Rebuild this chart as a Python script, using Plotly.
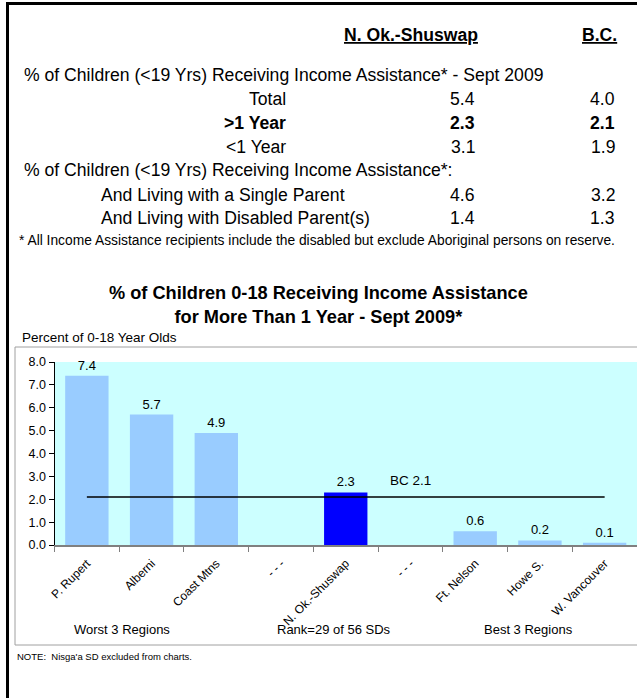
import plotly.graph_objects as go

W, H = 637, 698
FONT = "Liberation Sans, Arial, sans-serif"

# summary table
col_headers = ["N. Ok.-Shuswap", "B.C."]
section_titles = [
    "% of Children (<19 Yrs) Receiving Income Assistance* - Sept 2009",
    "% of Children (<19 Yrs) Receiving Income Assistance*:",
]
sept_labels = ["Total", ">1 Year", "<1 Year"]
sept_nos = [5.4, 2.3, 3.1]
sept_bc = [4.0, 2.1, 1.9]
parent_labels = ["And Living with a Single Parent", "And Living with Disabled Parent(s)"]
parent_nos = [4.6, 1.4]
parent_bc = [3.2, 1.3]
footnote = ("* All Income Assistance recipients include the disabled but exclude "
            "Aboriginal persons on reserve.")

# bar chart
chart_title = ("<b>% of Children 0-18 Receiving Income Assistance<br>"
               "for More Than 1 Year - Sept 2009*</b>")
region_keys = ["P. Rupert", "Alberni", "Coast Mtns", "gap1", "N. Ok.-Shuswap",
               "gap2", "Ft. Nelson", "Howe S.", "W. Vancouver"]
region_labels = ["P. Rupert", "Alberni", "Coast Mtns", "- - -", "N. Ok.-Shuswap",
                 "- - -", "Ft. Nelson", "Howe S.", "W. Vancouver"]
rates = [7.4, 5.7, 4.9, None, 2.3, None, 0.6, 0.2, 0.1]
highlight = "N. Ok.-Shuswap"
bc_rate = 2.1
group_labels = ["Worst 3 Regions", "Rank=29 of 56 SDs", "Best 3 Regions"]
note = "NOTE:  Nisga'a SD excluded from charts."


def px(x):
    return x / W


def py(y):
    return 1 - y / H


def text(s, x, y, size, anchor="left", bold=False):
    if bold:
        s = f"<b>{s}</b>"
    return dict(text=s, x=px(x), y=py(y), xref="paper", yref="paper",
                xanchor=anchor, yanchor="middle", showarrow=False,
                font=dict(size=size, color="black", family=FONT))


TS = 17.6  # table font size
annotations = []
annotations.append(text(f"<u>{col_headers[0]}</u>", 411, 35, TS, "center", True))
annotations.append(text(f"<u>{col_headers[1]}</u>", 599, 35, TS, "center", True))
annotations.append(text(section_titles[0], 22, 75, TS))
for i, lab in enumerate(sept_labels):
    y = 99 + i * 24
    bold = i == 1
    annotations.append(text(lab, 288, y, TS, "right", bold))
    annotations.append(text(f"{sept_nos[i]:.1f}", 477, y, TS, "right", bold))
    annotations.append(text(f"{sept_bc[i]:.1f}", 617, y, TS, "right", bold))
annotations.append(text(section_titles[1], 22, 170, TS))
for i, lab in enumerate(parent_labels):
    y = 195 + i * 23
    annotations.append(text(lab, 99, y, TS))
    annotations.append(text(f"{parent_nos[i]:.1f}", 477, y, TS, "right"))
    annotations.append(text(f"{parent_bc[i]:.1f}", 617, y, TS, "right"))
annotations.append(text(footnote, 17, 241, 13.8))

annotations.append(text(chart_title, 318, 305, 18.2, "center"))
annotations.append(text("Percent of 0-18 Year Olds", 20, 338, 13.5))
for lab, x in zip(group_labels, [122, 334, 528]):
    annotations.append(text(lab, x, 629, 13, "center"))
annotations.append(text(note, 15, 656, 9.5))

annotations.append(dict(text=f"BC {bc_rate}", x=highlight, y=bc_rate, xref="x", yref="y",
                        xshift=65, yshift=16, showarrow=False,
                        font=dict(size=13.5, color="black", family=FONT)))

colors = ["#0000FF" if k == highlight else "#99CCFF" for k in region_keys]

fig = go.Figure()
fig.add_trace(go.Bar(
    x=region_keys, y=rates, marker=dict(color=colors, line=dict(width=0)),
    text=[f"{v:.1f}" if v is not None else "" for v in rates],
    textposition="outside", cliponaxis=False,
    textfont=dict(size=13, color="black", family=FONT),
    width=0.67, hoverinfo="skip",
))
fig.add_trace(go.Scatter(
    x=[region_keys[0], region_keys[-1]], y=[bc_rate, bc_rate], mode="lines",
    line=dict(color="black", width=1.5), hoverinfo="skip",
))

shapes = [
    dict(type="rect", xref="paper", yref="paper", x0=px(15), x1=px(660),
         y0=py(645), y1=py(347), line=dict(color="#A0A0A0", width=1)),
    dict(type="line", xref="paper", yref="paper", x0=px(6), x1=px(660),
         y0=py(3.5), y1=py(3.5), line=dict(color="black", width=3)),
    dict(type="line", xref="paper", yref="paper", x0=px(7.5), x1=px(7.5),
         y0=py(2), y1=py(720), line=dict(color="black", width=3)),
]

fig.update_layout(
    width=W, height=H,
    margin=dict(l=0, r=0, t=0, b=0),
    paper_bgcolor="white", plot_bgcolor="#CCFFFF",
    showlegend=False,
    font=dict(family=FONT, color="black"),
    annotations=annotations, shapes=shapes,
    xaxis=dict(domain=[px(54.5), 1], type="category",
               tickvals=region_keys, ticktext=region_labels,
               tickson="boundaries", ticks="outside", ticklen=5,
               tickcolor="#808080", linecolor="#808080", linewidth=1.5,
               showline=True, tickangle=-45, tickfont=dict(size=12),
               ticklabelstandoff=5,
               showgrid=False, automargin=False, fixedrange=True),
    yaxis=dict(domain=[py(545), py(362)], range=[0, 8], dtick=1,
               tickformat=".1f", ticks="outside", ticklen=5,
               tickcolor="black", linecolor="black", linewidth=1,
               showline=True, showgrid=False, zeroline=False,
               tickfont=dict(size=12.5), automargin=False, fixedrange=True),
)

# drop the browser's default body margin so the figure sits at the page corner
fig.write_html("out.html", config={"displayModeBar": False},
               post_script="document.body.style.margin = '0';")
